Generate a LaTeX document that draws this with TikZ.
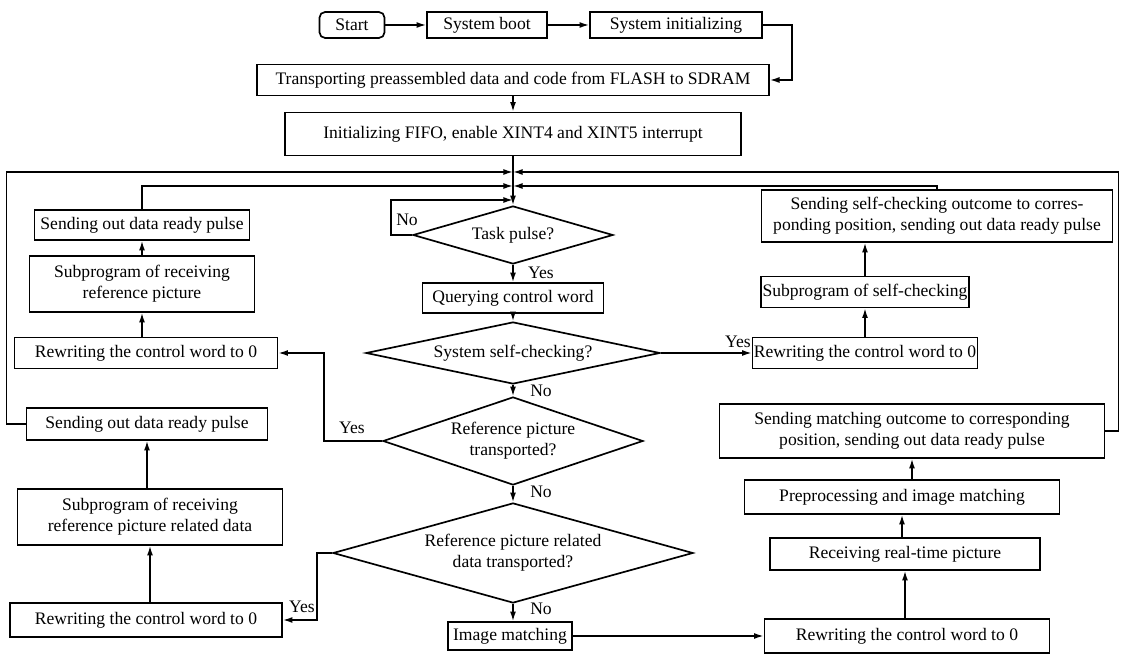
\documentclass[tikz,border=0pt]{standalone}
\usepackage{fontspec}
\setmainfont{Liberation Serif}
\usetikzlibrary{shapes.geometric,arrows.meta}
\tikzset{
  box/.style={draw, line width=1.2pt, inner sep=1pt, align=center},
  startbox/.style={box, rounded corners=4pt},
  decision/.style={draw, line width=1.2pt, diamond, inner sep=0pt, align=center},
  flow/.style={line width=1.1pt, -{Latex[length=0.24cm,width=0.15cm]}}
}
\begin{document}
\begin{tikzpicture}[x=0.025cm, y=0.025cm, font=\fontsize{12.5}{15}\selectfont]
    \useasboundingbox (0,0) rectangle (1121,-655);
    % Start-up
    \node[startbox, minimum width=1.625cm, minimum height=0.65cm] (start) at (352,-25) {Start};
    \node[box, minimum width=3cm, minimum height=0.65cm] (boot) at (487,-25) {System boot};
    \node[box, minimum width=4.3cm, minimum height=0.65cm] (init) at (676,-25) {System initializing};
    \node[box, minimum width=12.8cm, minimum height=0.775cm] (transport) at (513,-80) {Transporting preassembled data and code from FLASH to SDRAM};
    \node[box, minimum width=11.4cm, minimum height=1.075cm] (fifo) at (513,-134) {Initializing FIFO, enable XINT4 and XINT5 interrupt};
    \draw[flow] (start) -- (boot);
    \draw[flow] (boot) -- (init);
    \draw[flow] (init.east) -- ++(29,0) |- (transport.east);
    \draw[flow] (transport) -- (fifo);

    % Main column
    \coordinate (j1) at (513,-172);
    \coordinate (j2) at (513,-186);
    \coordinate (j3) at (513,-200);
    \node[decision, aspect=3.45, minimum width=5cm, minimum height=1.45cm] (task) at (513,-235) {Task pulse?};
    \node[box, minimum width=4.525cm, minimum height=0.75cm] (query) at (513,-298) {Querying control word};
    \node[decision, aspect=4.74, minimum width=7.35cm, minimum height=1.55cm] (self) at (513,-353) {System self-checking?};
    \node[decision, aspect=2.95, minimum width=6.5cm, minimum height=2.2cm] (ref) at (513,-441) {Reference picture\\transported?};
    \node[decision, aspect=3.6, minimum width=9cm, minimum height=2.5cm] (rel) at (513,-553) {Reference picture related\\data transported?};
    \node[box, minimum width=3.1cm, minimum height=0.7cm] (imgmatch) at (510,-636) {Image matching};
    \draw[flow] (fifo.south) -- (task.north);
    \draw[flow] (task.west) -- ++(-21,0) |- (j3);
    \draw[flow] (task.south) -- (query.north);
    \draw[flow] (query.south) -- (self.north);
    \draw[flow] (self.south) -- (ref.north);
    \draw[flow] (ref.south) -- (rel.north);
    \draw[flow] (rel.south) -- (imgmatch.north -| rel.south);
    \node (no1) at (407,-220) {No};
    \node (yes1) at (541,-273) {Yes};
    \node (no2) at (541,-391) {No};
    \node (no3) at (541,-492) {No};
    \node (no4) at (541,-609) {No};

    % Left column
    \node[box, minimum width=5.375cm, minimum height=0.75cm] (ulsend) at (142,-225) {Sending out data ready pulse};
    \node[box, minimum width=5.625cm, minimum height=1.4cm] (ulsub) at (142,-284) {Subprogram of receiving\\reference picture};
    \node[box, minimum width=6.575cm, minimum height=0.775cm] (ulrewrite) at (146,-353) {Rewriting the control word to 0};
    \node[box, minimum width=6.025cm, minimum height=0.8cm] (llsend) at (147,-424) {Sending out data ready pulse};
    \node[box, minimum width=6.625cm, minimum height=1.4cm] (llsub) at (150,-517) {Subprogram of receiving\\reference picture related data};
    \node[box, minimum width=6.8cm, minimum height=0.85cm] (llrewrite) at (146,-620) {Rewriting the control word to 0};
    \draw[flow] (ulrewrite.north -| ulsub.south) -- (ulsub.south);
    \draw[flow] (ulsub.north) -- (ulsend.south);
    \draw[flow] (llrewrite.north -| llsub.south) -- (llsub.south);
    \draw[flow] (llsub.north -| llsend.south) -- (llsend.south);
    \draw[flow] (ulsend.north) |- (j2);
    \draw[flow] (llsend.west) -- ++(-19,0) |- (j1);
    \draw[flow] (ref.west) -- ++(-58,0) |- (ulrewrite.east);
    \draw[flow] (rel.west) -- ++(-15,0) |- (llrewrite.east);
    \node (yes2) at (352,-428) {Yes};
    \node (yes3) at (302,-607) {Yes};

    % Right column
    \node[box, minimum width=8.775cm, minimum height=1.3cm] (sself) at (937,-216) {Sending self-checking outcome to corres-\\ponding position, sending out data ready pulse};
    \node[box, minimum width=4.75cm, minimum height=0.775cm] (subself) at (865,-292) {Subprogram of self-checking};
    \node[box, minimum width=5cm, minimum height=0.775cm] (rrrewrite) at (865,-353) {Rewriting the control word to 0};
    \node[box, minimum width=9.625cm, minimum height=1.35cm] (smatch) at (912,-431) {Sending matching outcome to corresponding\\position, sending out data ready pulse};
    \node[box, minimum width=7.875cm, minimum height=0.85cm] (prep) at (902,-497) {Preprocessing and image matching};
    \node[box, minimum width=6.75cm, minimum height=0.8cm] (recv) at (905,-554) {Receiving real-time picture};
    \node[box, minimum width=7.125cm, minimum height=0.85cm] (brrewrite) at (907,-636) {Rewriting the control word to 0};
    \draw[flow] (self.east) -- (rrrewrite.west);
    \draw[flow] (rrrewrite.north) -- (subself.south);
    \draw[flow] (subself.north) -- (sself.south -| subself.north);
    \draw[flow] (imgmatch.east) -- (brrewrite.west);
    \draw[flow] (brrewrite.north -| recv.south) -- (recv.south);
    \draw[flow] (recv.north -| prep.south) -- (prep.south);
    \draw[flow] (prep.north -| smatch.south) -- (smatch.south);
    \draw[flow] (sself.north) |- (j2);
    \draw[flow] (smatch.east) -- ++(13,0) |- (j1);
    \node (yes4) at (738,-342) {Yes};
\end{tikzpicture}
\end{document}
